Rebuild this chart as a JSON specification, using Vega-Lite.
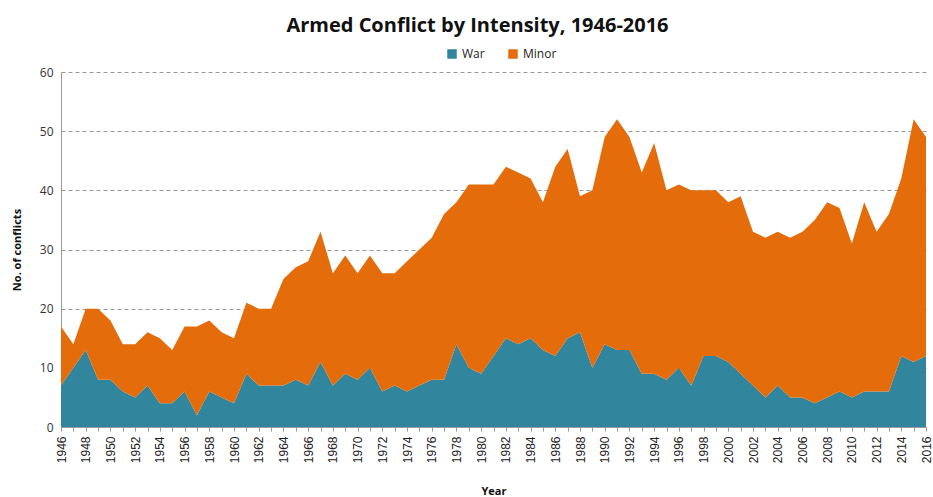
{
  "$schema": "https://vega.github.io/schema/vega-lite/v6.json",
  "width": 865,
  "height": 355,
  "autosize": {"type": "none"},
  "padding": {"left": 61, "top": 72, "right": 7, "bottom": 70},
  "background": "white",
  "title": {
    "text": "Armed Conflict by Intensity, 1946-2016",
    "font": "Open Sans",
    "fontSize": 20,
    "fontWeight": "bold",
    "color": "#111111",
    "anchor": "middle",
    "dx": -16,
    "offset": 12
  },
  "data": {
    "values": [
      {"year": 1946, "War": 7, "Minor": 10},
      {"year": 1947, "War": 10, "Minor": 4},
      {"year": 1948, "War": 13, "Minor": 7},
      {"year": 1949, "War": 8, "Minor": 12},
      {"year": 1950, "War": 8, "Minor": 10},
      {"year": 1951, "War": 6, "Minor": 8},
      {"year": 1952, "War": 5, "Minor": 9},
      {"year": 1953, "War": 7, "Minor": 9},
      {"year": 1954, "War": 4, "Minor": 11},
      {"year": 1955, "War": 4, "Minor": 9},
      {"year": 1956, "War": 6, "Minor": 11},
      {"year": 1957, "War": 2, "Minor": 15},
      {"year": 1958, "War": 6, "Minor": 12},
      {"year": 1959, "War": 5, "Minor": 11},
      {"year": 1960, "War": 4, "Minor": 11},
      {"year": 1961, "War": 9, "Minor": 12},
      {"year": 1962, "War": 7, "Minor": 13},
      {"year": 1963, "War": 7, "Minor": 13},
      {"year": 1964, "War": 7, "Minor": 18},
      {"year": 1965, "War": 8, "Minor": 19},
      {"year": 1966, "War": 7, "Minor": 21},
      {"year": 1967, "War": 11, "Minor": 22},
      {"year": 1968, "War": 7, "Minor": 19},
      {"year": 1969, "War": 9, "Minor": 20},
      {"year": 1970, "War": 8, "Minor": 18},
      {"year": 1971, "War": 10, "Minor": 19},
      {"year": 1972, "War": 6, "Minor": 20},
      {"year": 1973, "War": 7, "Minor": 19},
      {"year": 1974, "War": 6, "Minor": 22},
      {"year": 1975, "War": 7, "Minor": 23},
      {"year": 1976, "War": 8, "Minor": 24},
      {"year": 1977, "War": 8, "Minor": 28},
      {"year": 1978, "War": 14, "Minor": 24},
      {"year": 1979, "War": 10, "Minor": 31},
      {"year": 1980, "War": 9, "Minor": 32},
      {"year": 1981, "War": 12, "Minor": 29},
      {"year": 1982, "War": 15, "Minor": 29},
      {"year": 1983, "War": 14, "Minor": 29},
      {"year": 1984, "War": 15, "Minor": 27},
      {"year": 1985, "War": 13, "Minor": 25},
      {"year": 1986, "War": 12, "Minor": 32},
      {"year": 1987, "War": 15, "Minor": 32},
      {"year": 1988, "War": 16, "Minor": 23},
      {"year": 1989, "War": 10, "Minor": 30},
      {"year": 1990, "War": 14, "Minor": 35},
      {"year": 1991, "War": 13, "Minor": 39},
      {"year": 1992, "War": 13, "Minor": 36},
      {"year": 1993, "War": 9, "Minor": 34},
      {"year": 1994, "War": 9, "Minor": 39},
      {"year": 1995, "War": 8, "Minor": 32},
      {"year": 1996, "War": 10, "Minor": 31},
      {"year": 1997, "War": 7, "Minor": 33},
      {"year": 1998, "War": 12, "Minor": 28},
      {"year": 1999, "War": 12, "Minor": 28},
      {"year": 2000, "War": 11, "Minor": 27},
      {"year": 2001, "War": 9, "Minor": 30},
      {"year": 2002, "War": 7, "Minor": 26},
      {"year": 2003, "War": 5, "Minor": 27},
      {"year": 2004, "War": 7, "Minor": 26},
      {"year": 2005, "War": 5, "Minor": 27},
      {"year": 2006, "War": 5, "Minor": 28},
      {"year": 2007, "War": 4, "Minor": 31},
      {"year": 2008, "War": 5, "Minor": 33},
      {"year": 2009, "War": 6, "Minor": 31},
      {"year": 2010, "War": 5, "Minor": 26},
      {"year": 2011, "War": 6, "Minor": 32},
      {"year": 2012, "War": 6, "Minor": 27},
      {"year": 2013, "War": 6, "Minor": 30},
      {"year": 2014, "War": 12, "Minor": 30},
      {"year": 2015, "War": 11, "Minor": 41},
      {"year": 2016, "War": 12, "Minor": 37}
    ]
  },
  "transform": [
    {"fold": ["War", "Minor"], "as": ["intensity", "conflicts"]}
  ],
  "mark": {"type": "area", "interpolate": "linear", "opacity": 1},
  "encoding": {
    "x": {
      "field": "year",
      "type": "quantitative",
      "scale": {"domain": [1946, 2016], "nice": false, "zero": false},
      "axis": {
        "title": "Year",
        "titleFont": "Open Sans",
        "titleFontSize": 11,
        "titleFontWeight": "bold",
        "titleColor": "#111111",
        "titlePadding": 23,
        "values": [1946,1947,1948,1949,1950,1951,1952,1953,1954,1955,1956,1957,1958,1959,1960,1961,1962,1963,1964,1965,1966,1967,1968,1969,1970,1971,1972,1973,1974,1975,1976,1977,1978,1979,1980,1981,1982,1983,1984,1985,1986,1987,1988,1989,1990,1991,1992,1993,1994,1995,1996,1997,1998,1999,2000,2001,2002,2003,2004,2005,2006,2007,2008,2009,2010,2011,2012,2013,2014,2015,2016],
        "labelExpr": "datum.value % 2 == 0 ? '' + datum.value : ''",
        "labelAngle": -90,
        "labelAlign": "right",
        "labelBaseline": "middle",
        "labelFont": "Liberation Sans",
        "labelFontSize": 12,
        "labelColor": "#222222",
        "labelPadding": 5,
        "labelOverlap": false,
        "labelFlush": false,
        "domainColor": "#999999",
        "tickColor": "#999999",
        "tickSize": 4,
        "grid": false
      }
    },
    "y": {
      "field": "conflicts",
      "type": "quantitative",
      "stack": "zero",
      "scale": {"domain": [0, 60], "nice": false},
      "axis": {
        "title": "No. of conflicts",
        "titleFont": "Open Sans",
        "titleFontSize": 11,
        "titleFontWeight": "bold",
        "titleColor": "#111111",
        "titlePadding": 17,
        "values": [0, 10, 20, 30, 40, 50, 60],
        "labelFont": "Open Sans",
        "labelFontSize": 12,
        "labelColor": "#333333",
        "labelPadding": 8,
        "domainColor": "#999999",
        "domain": true,
        "ticks": false,
        "grid": true,
        "gridColor": "#999999",
        "gridDash": [4, 3],
        "gridWidth": 1
      }
    },
    "color": {
      "field": "intensity",
      "type": "nominal",
      "scale": {"domain": ["War", "Minor"], "range": ["#31859C", "#E46C0A"]},
      "legend": {
        "title": null,
        "orient": "none",
        "direction": "horizontal",
        "legendX": 385,
        "legendY": -24,
        "symbolType": "square",
        "symbolSize": 90,
        "symbolStrokeWidth": 0,
        "labelFont": "Open Sans",
        "labelFontSize": 12,
        "labelColor": "#222222",
        "columnPadding": 22
      }
    },
    "order": {"field": "intensity", "sort": "descending"}
  },
  "config": {
    "view": {"stroke": null}
  }
}
